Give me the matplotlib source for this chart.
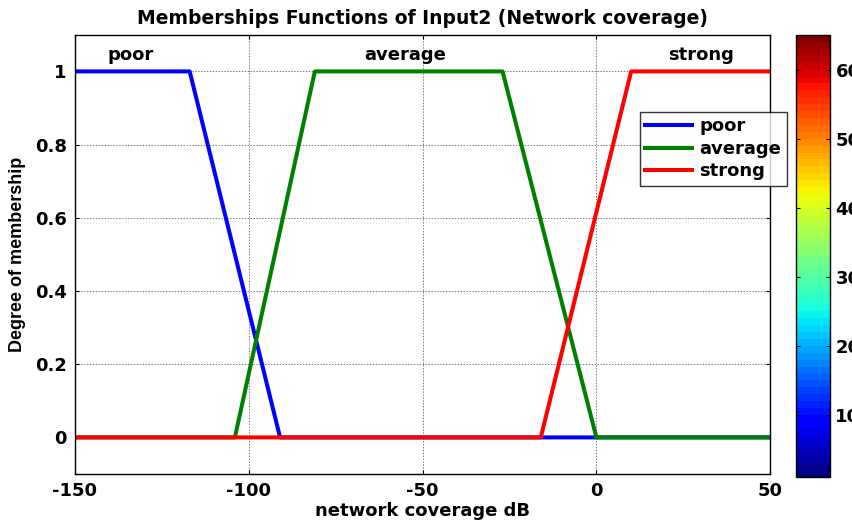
import matplotlib
matplotlib.use("Agg")
import matplotlib.pyplot as plt
import numpy as np
from matplotlib.colors import ListedColormap, Normalize
from matplotlib.cm import ScalarMappable

plt.rcParams.update({
    "font.family": ["DejaVu Sans"],
    "font.weight": "bold",
    "font.size": 13,
    "axes.unicode_minus": False,
})

# trapezoid breakpoints
POOR_X = [-150, -117, -91, 50]
POOR_Y = [1, 1, 0, 0]
AVG_X = [-150, -104, -81, -27, 0, 50]
AVG_Y = [0, 0, 1, 1, 0, 0]
STRONG_X = [-150, -16, 10, 50]
STRONG_Y = [0, 0, 1, 1]

LABELS = ["poor", "average", "strong"]
LABEL_X = [-134, -55, 30]
LABEL_Y = 1.045

X_TICKS = [-150, -100, -50, 0, 50]
Y_TICKS = [0, 0.2, 0.4, 0.6, 0.8, 1]
CB_TICKS = [10, 20, 30, 40, 50, 60]

FS = 13

fig = plt.figure(figsize=(8.52, 5.21), dpi=100)
ax = fig.add_axes([0.088, 0.0902, 0.816, 0.843])
cax = fig.add_axes([0.934, 0.0845, 0.040, 0.848])

lw = 2.9
ax.plot(POOR_X, POOR_Y, color="#0000ff", lw=lw, label="poor")
ax.plot(AVG_X, AVG_Y, color="#008000", lw=lw, label="average")
ax.plot(STRONG_X, STRONG_Y, color="#ff0000", lw=lw, label="strong")

for name, lx in zip(LABELS, LABEL_X):
    ax.text(lx, LABEL_Y, name, ha="center", va="center", fontsize=FS, fontweight="bold")

ax.set_xlim(-150, 50)
ax.set_ylim(-0.1, 1.1)
ax.set_xticks(X_TICKS)
ax.set_yticks(Y_TICKS)
ax.set_yticklabels(["0", "0.2", "0.4", "0.6", "0.8", "1"])
ax.tick_params(direction="in", top=True, right=True, labelsize=FS, length=3, width=0.8, pad=6)
ax.grid(True, color="#7f7f7f", lw=0.7, ls=(0, (1.5, 1.5)))
for s in ax.spines.values():
    s.set_linewidth(1.0)

ax.set_title("Memberships Functions of Input2 (Network coverage)", fontsize=13.5,
             fontweight="bold", pad=8)
ax.set_xlabel("network coverage dB", fontsize=13, fontweight="bold", labelpad=1)
ax.set_ylabel("Degree of membership", fontsize=13, fontweight="bold", labelpad=6,
              family="Liberation Sans")

leg = fig.legend(loc="upper left", bbox_to_anchor=(0.751, 0.785), fontsize=FS,
                 handlelength=2.6, frameon=True, fancybox=False, borderpad=0.3,
                 labelspacing=0.25, handletextpad=0.4, borderaxespad=0)
leg.get_frame().set_edgecolor("black")
leg.get_frame().set_linewidth(1.0)
leg.set_zorder(10)

jet64 = ListedColormap(plt.get_cmap("jet")(np.linspace(0, 1, 64)))
sm = ScalarMappable(norm=Normalize(1, 65), cmap=jet64)
cb = fig.colorbar(sm, cax=cax, ticks=CB_TICKS)
cb.outline.set_linewidth(1.0)
cax.tick_params(direction="in", left=True, right=True, labelsize=FS, length=3, pad=4)

fig.savefig("out.png", dpi=100)
